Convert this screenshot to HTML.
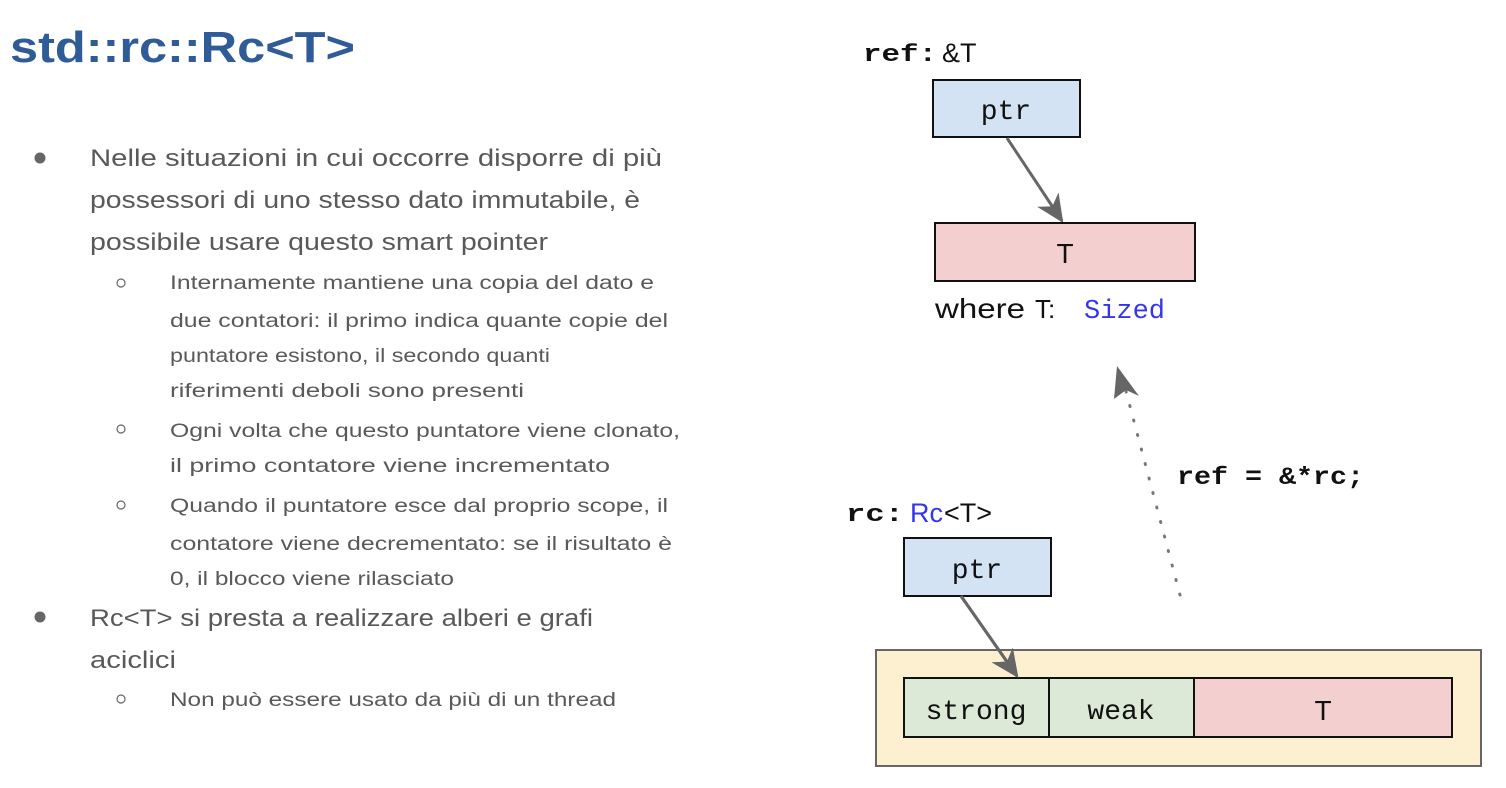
<!DOCTYPE html>
<html><head><meta charset="utf-8"><style>
html,body{margin:0;padding:0;background:#fff;}
svg{display:block;}
.t{font-family:"Liberation Sans",sans-serif;fill:#595959;}
.m{font-family:"Liberation Mono",monospace;fill:#111;}
</style></head><body>
<svg width="1506" height="788" viewBox="0 0 1506 788" xmlns="http://www.w3.org/2000/svg">
<defs>
<marker id="ah2" viewBox="0 0 24 24" refX="22" refY="12" markerWidth="28" markerHeight="28" markerUnits="userSpaceOnUse" orient="auto">
<path d="M0,1 L24,12 L0,23 L7,12 Z" fill="#666"/>
</marker>
</defs>
<text x="10" y="62" font-family="Liberation Sans,sans-serif" font-weight="bold" font-size="44" fill="#2f5c96" textLength="345" lengthAdjust="spacingAndGlyphs">std::rc::Rc&lt;T&gt;</text>

<g class="t" font-size="24">
<circle cx="40" cy="158" r="5.5" fill="#666"/>
<text x="90" y="166" textLength="572" lengthAdjust="spacingAndGlyphs">Nelle situazioni in cui occorre disporre di più</text>
<text x="90" y="208" textLength="550" lengthAdjust="spacingAndGlyphs">possessori di uno stesso dato immutabile, è</text>
<text x="90" y="250" textLength="458" lengthAdjust="spacingAndGlyphs">possibile usare questo smart pointer</text>
<circle cx="40" cy="617" r="5.5" fill="#666"/>
<text x="90" y="626" textLength="503" lengthAdjust="spacingAndGlyphs">Rc&lt;T&gt; si presta a realizzare alberi e grafi</text>
<text x="90" y="668" textLength="86" lengthAdjust="spacingAndGlyphs">aciclici</text>
</g>
<g class="t" font-size="19">
<circle cx="121" cy="283" r="4" fill="none" stroke="#666" stroke-width="1.2"/>
<text x="170" y="289" textLength="484" lengthAdjust="spacingAndGlyphs">Internamente mantiene una copia del dato e</text>
<text x="170" y="327" textLength="498" lengthAdjust="spacingAndGlyphs">due contatori: il primo indica quante copie del</text>
<text x="170" y="362" textLength="380" lengthAdjust="spacingAndGlyphs">puntatore esistono, il secondo quanti</text>
<text x="170" y="397" textLength="354" lengthAdjust="spacingAndGlyphs">riferimenti deboli sono presenti</text>
<circle cx="121" cy="429" r="4" fill="none" stroke="#666" stroke-width="1.2"/>
<text x="170" y="437" textLength="510" lengthAdjust="spacingAndGlyphs">Ogni volta che questo puntatore viene clonato,</text>
<text x="170" y="472" textLength="440" lengthAdjust="spacingAndGlyphs">il primo contatore viene incrementato</text>
<circle cx="121" cy="505" r="4" fill="none" stroke="#666" stroke-width="1.2"/>
<text x="170" y="512" textLength="498" lengthAdjust="spacingAndGlyphs">Quando il puntatore esce dal proprio scope, il</text>
<text x="170" y="550" textLength="502" lengthAdjust="spacingAndGlyphs">contatore viene decrementato: se il risultato è</text>
<text x="170" y="585" textLength="284" lengthAdjust="spacingAndGlyphs">0, il blocco viene rilasciato</text>
<circle cx="121" cy="699" r="4" fill="none" stroke="#666" stroke-width="1.2"/>
<text x="170" y="706" textLength="446" lengthAdjust="spacingAndGlyphs">Non può essere usato da più di un thread</text>
</g>

<!-- top diagram -->
<text class="m" x="863" y="61" font-size="24" font-weight="bold" textLength="74" lengthAdjust="spacingAndGlyphs">ref:</text>
<text x="942" y="62" font-family="Liberation Sans,sans-serif" font-size="27" fill="#111">&amp;T</text>
<rect x="933" y="80" width="147" height="57" fill="#d4e3f4" stroke="#111" stroke-width="2"/>
<text class="m" x="1006" y="119" font-size="28" text-anchor="middle">ptr</text>
<line x1="1007" y1="138" x2="1062" y2="221" stroke="#666" stroke-width="3" marker-end="url(#ah2)"/>
<rect x="935" y="223" width="260" height="58" fill="#f4cfd0" stroke="#111" stroke-width="2"/>
<text x="1065" y="263" font-family="Liberation Sans,sans-serif" font-size="28" fill="#111" text-anchor="middle">T</text>
<text x="935" y="318" font-family="Liberation Sans,sans-serif" font-size="28" fill="#111" textLength="90" lengthAdjust="spacingAndGlyphs">where</text>
<text x="1035" y="318" font-family="Liberation Sans,sans-serif" font-size="26" fill="#111">T:</text>
<text class="m" x="1084" y="318" font-size="27" style="fill:#3535ee">Sized</text>

<!-- dotted arrow -->
<line x1="1180" y1="595" x2="1123" y2="380" stroke="#777" stroke-width="3" stroke-dasharray="1 14" stroke-linecap="round"/>
<path d="M1117,366 L1139,396 L1126,390 L1114,399 Z" fill="#666"/>
<text class="m" x="1177" y="484" font-size="25" font-weight="bold" textLength="187" lengthAdjust="spacingAndGlyphs">ref = &amp;*rc;</text>

<!-- bottom diagram -->
<text class="m" x="846" y="521" font-size="24" font-weight="bold" textLength="58" lengthAdjust="spacingAndGlyphs">rc:</text>
<text x="910" y="522" font-family="Liberation Sans,sans-serif" font-size="27" fill="#3535ee">Rc</text>
<text x="944" y="522" font-family="Liberation Sans,sans-serif" font-size="27" fill="#111">&lt;T&gt;</text>
<rect x="904" y="538" width="147" height="58" fill="#d4e3f4" stroke="#111" stroke-width="2"/>
<text class="m" x="977" y="578" font-size="28" text-anchor="middle">ptr</text>
<rect x="876" y="650" width="605" height="116" fill="#fdf0d0" stroke="#666" stroke-width="2"/>
<line x1="961" y1="596" x2="1017" y2="676" stroke="#666" stroke-width="3" marker-end="url(#ah2)"/>
<rect x="904" y="678" width="145" height="59" fill="#dbe9d6" stroke="#111" stroke-width="2"/>
<rect x="1049" y="678" width="145" height="59" fill="#dbe9d6" stroke="#111" stroke-width="2"/>
<rect x="1194" y="678" width="258" height="59" fill="#f4cfd0" stroke="#111" stroke-width="2"/>
<line x1="961" y1="596" x2="1017" y2="676" stroke="#666" stroke-width="3" marker-end="url(#ah2)"/>
<text class="m" x="976" y="719" font-size="28" text-anchor="middle">strong</text>
<text class="m" x="1121" y="719" font-size="28" text-anchor="middle">weak</text>
<text x="1323" y="720" font-family="Liberation Sans,sans-serif" font-size="28" fill="#111" text-anchor="middle">T</text>
</svg>
</body></html>
